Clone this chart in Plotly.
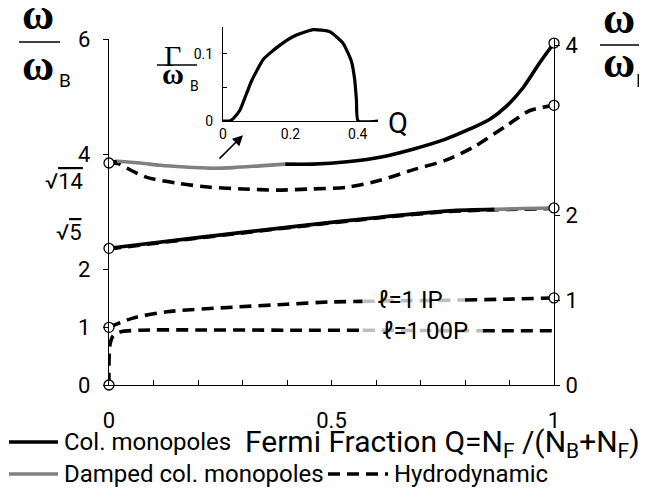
import plotly.graph_objects as go

# ---------------- data (x: Fermi fraction Q, y: omega/omega_B) ----------------
# upper collective monopole (black), damped part (grey), black again
up_col_a_q = [0.0, 0.018]
up_col_a_v = [3.85, 3.88]
up_damp_q = [0.018, 0.07, 0.115, 0.17, 0.227, 0.28, 0.339, 0.396]
up_damp_v = [3.88, 3.85, 3.81, 3.78, 3.76, 3.77, 3.80, 3.83]
up_col_b_q = [0.396, 0.458, 0.535, 0.609, 0.683, 0.755, 0.811, 0.856, 0.894, 0.930, 0.969, 1.0]
up_col_b_v = [3.83, 3.83, 3.87, 3.95, 4.09, 4.26, 4.44, 4.61, 4.84, 5.15, 5.60, 5.93]

# upper hydrodynamic
up_hyd_q = [0.0, 0.02, 0.04, 0.085, 0.153, 0.227, 0.301, 0.378, 0.458, 0.535, 0.609, 0.683, 0.757, 0.818, 0.894, 0.946, 1.0]
up_hyd_v = [3.85, 3.84, 3.76, 3.60, 3.50, 3.43, 3.40, 3.38, 3.40, 3.43, 3.55, 3.73, 3.90, 4.12, 4.50, 4.76, 4.85]

# lower collective monopole, damped end, and hydrodynamic
lo_col_q = [0.0, 0.204, 0.429, 0.609, 0.766, 0.866]
lo_col_v = [2.37, 2.56, 2.76, 2.91, 3.02, 3.045]
lo_damp_q = [0.866, 0.93, 1.0]
lo_damp_v = [3.045, 3.06, 3.07]
lo_hyd_q = [0.0, 0.204, 0.429, 0.609, 0.766, 0.879, 1.0]
lo_hyd_v = [2.36, 2.55, 2.75, 2.90, 3.01, 3.04, 3.06]

# l=1 in-phase (IP) and out-of-phase (OOP) hydrodynamic modes
ip_q = [0.0, 0.054, 0.13, 0.279, 0.40, 0.497, 0.57, 0.65, 0.72, 0.80, 0.90, 1.0]
ip_v = [1.0, 1.16, 1.27, 1.35, 1.40, 1.44, 1.45, 1.46, 1.465, 1.475, 1.49, 1.51]
oop_q = [0.0, 0.002, 0.009, 0.025, 0.07, 0.20, 0.43, 0.57, 0.70, 0.84, 1.0]
oop_v = [0.0, 0.69, 0.85, 0.92, 0.95, 0.955, 0.95, 0.95, 0.945, 0.94, 0.94]
ip_label_range = (6, 9)    # indices of the segment drawn light behind the label
oop_label_range = (7, 9)

# inset: damping Gamma/omega_B vs Q
g_q = [0.0, 0.02, 0.031, 0.05, 0.07, 0.085, 0.12, 0.169, 0.218, 0.268, 0.317, 0.356, 0.381, 0.391, 0.396, 0.401, 0.46]
g_v = [0.0, 0.0, 0.004, 0.016, 0.041, 0.060, 0.092, 0.113, 0.128, 0.136, 0.133, 0.116, 0.089, 0.061, 0.031, 0.0, 0.0]

# ticks
x_ticks = [0, 0.5, 1]
x_tick_text = ["0", "0.5", "1"]
y_ticks = [0, 1, 2, 4, 6]
y2_ticks = [0, 1, 2, 4]
g_x_ticks = [0, 0.2, 0.4]
g_y_ticks = [0, 0.05, 0.1]
g_y_text = ["0", "", "0.1"]

legend_names = ["Col. monopoles", "Damped col. monopoles", "Hydrodynamic"]

# ---------------- figure ----------------
W, H = 647, 489
OFF = 8                      # page body margin added around the plot div
PL, PR, PT, PB = 109, 554, 20, 385   # plot area in page pixels
PW, PH = PR - PL, PB - PT
ML, MR, MT, MB = PL - OFF, W - (PR - OFF), PT - OFF, H - (PB - OFF)
def px(x, y):
    return (x - PL) / PW, (PB - y) / PH

FONT = "Roboto, Open Sans, sans-serif"
SERIF = "Liberation Serif, DejaVu Serif, serif"
BLACK, GREY, LGREY = "#000000", "#808080", "#bdbdbd"
LW = 3.6
DASH = "12px,7px"

fig = go.Figure()

def add(q, v, color, dash=None, width=LW):
    fig.add_trace(go.Scatter(x=q, y=v, mode="lines", showlegend=False, hoverinfo="skip",
                             line=dict(color=color, width=width, dash=dash, shape="spline", smoothing=0.8)))

# hydrodynamic curves
add(up_hyd_q, up_hyd_v, BLACK, DASH)
add(lo_hyd_q, lo_hyd_v, BLACK, DASH)
a, b = ip_label_range
add(ip_q[:a + 1], ip_v[:a + 1], BLACK, DASH)
add(ip_q[a:b + 1], ip_v[a:b + 1], LGREY, DASH)
add(ip_q[b:], ip_v[b:], BLACK, DASH)
a, b = oop_label_range
add(oop_q[:a + 1], oop_v[:a + 1], BLACK, DASH)
add(oop_q[a:b + 1], oop_v[a:b + 1], LGREY, DASH)
add(oop_q[b:], oop_v[b:], BLACK, DASH)

# collective monopoles
add(lo_col_q, lo_col_v, BLACK)
add(lo_damp_q, lo_damp_v, GREY)
add(up_col_a_q, up_col_a_v, BLACK)
add(up_damp_q, up_damp_v, GREY)
add(up_col_b_q, up_col_b_v, BLACK)

# end-point circles
ends_q = [up_col_a_q[0], lo_col_q[0], ip_q[0], oop_q[0], up_col_b_q[-1], up_hyd_q[-1], lo_damp_q[-1], ip_q[-1]]
ends_v = [up_col_a_v[0], lo_col_v[0], ip_v[0], oop_v[0], up_col_b_v[-1], up_hyd_v[-1], lo_damp_v[-1], ip_v[-1]]
fig.add_trace(go.Scatter(x=ends_q, y=ends_v, mode="markers", showlegend=False, cliponaxis=False, hoverinfo="skip",
                         marker=dict(size=10, color="white", line=dict(color=BLACK, width=1.3))))

# inset
fig.add_trace(go.Scatter(x=g_q, y=g_v, xaxis="x3", yaxis="y3", mode="lines", showlegend=False, hoverinfo="skip",
                         line=dict(color=BLACK, width=3.2, shape="spline", smoothing=0.5), cliponaxis=False))

# dummy trace for right axis
fig.add_trace(go.Scatter(x=[None], y=[None], yaxis="y2", showlegend=False))

main_dom = [0, (PB - 39) / PH]
axis_common = dict(showgrid=False, zeroline=False, showline=True, linecolor=BLACK, linewidth=1.3, automargin=False,
                   tickcolor=BLACK, tickfont=dict(family=FONT, size=22, color=BLACK))
inset_common = dict(showgrid=False, zeroline=False, showline=True, linecolor=BLACK, linewidth=1.2, automargin=False,
                    tickcolor=BLACK, tickfont=dict(family=FONT, size=14, color=BLACK))
fig.update_layout(
    width=W, height=H, margin=dict(l=ML, r=MR, t=MT, b=MB, autoexpand=False),
    plot_bgcolor="white", paper_bgcolor="white", showlegend=False,
    xaxis=dict(range=[0, 1], tickvals=x_ticks, ticktext=x_tick_text, ticks="inside", ticklen=5,
               minor=dict(dtick=0.1, ticks="inside", ticklen=5, tickcolor=BLACK), ticklabelstandoff=15, **axis_common),
    yaxis=dict(range=[0, 6], domain=main_dom, tickvals=y_ticks, ticks="outside", ticklen=5,
               ticklabelstandoff=8, **axis_common),
    yaxis2=dict(range=[0, 346 / 85], domain=main_dom, overlaying="y", side="right", anchor="x", tickvals=y2_ticks,
                ticks="outside", ticklen=5, ticklabelstandoff=1, **axis_common),
    xaxis3=dict(domain=[px(223, 0)[0], px(378, 0)[0]], range=[0, 0.46], anchor="y3", tickvals=g_x_ticks, ticks="",
                ticklabelstandoff=0, **inset_common),
    yaxis3=dict(domain=[px(0, 121)[1], px(0, 27)[1]], range=[0, 0.14], anchor="x3", tickvals=g_y_ticks,
                ticktext=g_y_text, ticks="inside", ticklen=4, ticklabelstandoff=6, **inset_common),
)

ann = []
def text(x, y, t, size, family=FONT, xanchor="center", yanchor="middle"):
    xx, yy = px(x, y)
    ann.append(dict(x=xx, y=yy, xref="paper", yref="paper", text=t, showarrow=False, xanchor=xanchor,
                    yanchor=yanchor, font=dict(family=family, size=size, color=BLACK)))

def hline(x0, x1, y, w=1.6, color=BLACK, dash=None):
    a0, b0 = px(x0, y)
    a1, _ = px(x1, y)
    fig.add_shape(type="line", xref="paper", yref="paper", x0=a0, x1=a1, y0=b0, y1=b0,
                  line=dict(color=color, width=w, dash=dash))

# omega / omega_B  (left)
text(38, 15, "<b>ω</b>", 44, SERIF)
hline(19, 60, 42)
text(38, 65, "<b>ω</b>", 44, SERIF)
text(65, 80, "B", 19)
# omega / omega_F  (right)
text(619, 18, "<b>ω</b>", 44, SERIF)
hline(600, 645, 45)
text(619, 63, "<b>ω</b>", 44, SERIF)
text(641, 80, "F", 19)
# Gamma / omega_B (inset)
text(172, 55, "Γ", 30, SERIF)
hline(157, 197, 65, 1.3)
text(173, 74, "<b>ω</b>", 30, SERIF)
text(194, 86, "B", 14)
text(398, 123, "Q", 29)

# sqrt labels
text(64, 182, "√<span style='text-decoration:overline'>14</span>", 22)
text(69, 233, "√<span style='text-decoration:overline'>5</span>", 22)

# curve labels
ann.append(dict(x=0.677, y=1.47, text="ℓ=1 IP", showarrow=False, font=dict(family=FONT, size=24, color=BLACK)))
ann.append(dict(x=0.71, y=0.93, text="ℓ=1 00P", showarrow=False, font=dict(family=FONT, size=24, color=BLACK)))

# axis title
text(442, 443, "Fermi Fraction Q=N<sub>F</sub> /(N<sub>B</sub>+N<sub>F</sub>)", 30)

# legend (drawn)
hline(9, 58, 442, LW, BLACK)
text(62, 442, legend_names[0], 24, FONT, "left")
hline(9, 58, 474, LW, GREY)
text(62, 474, legend_names[1], 24, FONT, "left")
hline(328, 388, 474, LW, BLACK, DASH)
text(392, 474, legend_names[2], 24, FONT, "left")

# arrows
def arrow(hx, hy, tx, ty, size=1.0):
    q, v = (hx - PL) / PW, (PB - hy) / 57.7
    ann.append(dict(x=q, y=v, xref="x", yref="y", ax=tx - hx, ay=ty - hy, text="", showarrow=True,
                    arrowhead=2, arrowsize=size, arrowwidth=1.6, arrowcolor=BLACK))
arrow(91, 180, 106, 166)
arrow(93, 232, 106, 245)
arrow(243, 135, 218, 160, 1.3)

fig.update_layout(annotations=ann)
fig.write_html("out.html")
